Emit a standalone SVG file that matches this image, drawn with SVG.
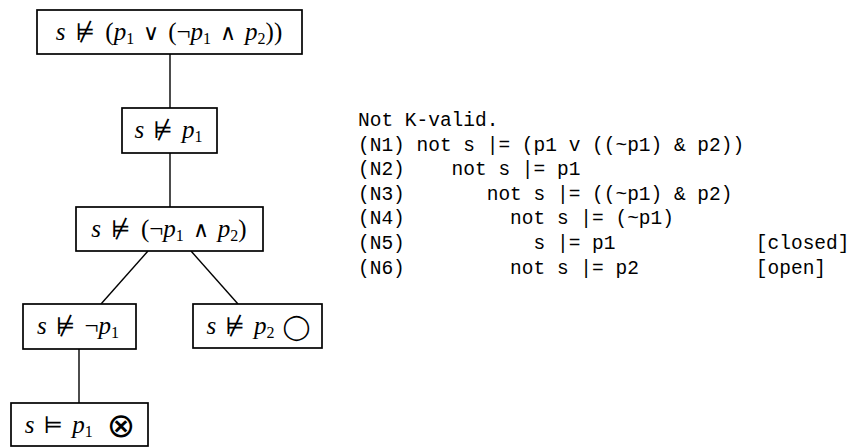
<svg xmlns="http://www.w3.org/2000/svg" width="859" height="447" viewBox="0 0 859 447">
  <style>
    .box { fill: #fff; stroke: #000; stroke-width: 1.7; }
    .edge { stroke: #000; stroke-width: 1.4; fill: none; }
    .math { font-family: "Liberation Serif", "DejaVu Serif", serif; font-size: 25px; fill: #000; }
    .i { font-style: italic; }
    .sub { font-size: 16px; }
    .sym { font-family: "DejaVu Serif", serif; font-size: 23px; }
    .thin { font-family: "DejaVu Sans", sans-serif; font-size: 22px; font-weight: 200; }
    .big { font-family: "DejaVu Sans", sans-serif; font-size: 25px; }
    .otimes { font-family: "DejaVu Sans", sans-serif; font-size: 34px; }
    .mono { font-family: "Liberation Mono", "DejaVu Sans Mono", monospace; font-size: 19.5px; fill: #000; white-space: pre; }
  </style>
  <rect width="859" height="447" fill="#fff"/>

  <!-- tree connectors -->
  <g id="connectors">
    <line class="edge" x1="170" y1="54" x2="170" y2="108"/>
    <line class="edge" x1="170" y1="153" x2="170" y2="207"/>
    <line class="edge" x1="148" y1="251" x2="101" y2="304"/>
    <line class="edge" x1="191" y1="251" x2="238" y2="304"/>
    <line class="edge" x1="79" y1="349" x2="79" y2="403"/>
  </g>

  <!-- tableau nodes -->
  <g id="n1">
    <rect class="box" x="37" y="10" width="265" height="44"/>
    <text class="math" x="169" y="40" text-anchor="middle"><tspan class="i">s</tspan><tspan class="sym" dx="10">⊭</tspan><tspan dx="10">(</tspan><tspan class="i">p</tspan><tspan class="sub" dy="4">1</tspan><tspan class="thin" dy="-4" dx="9">∨</tspan><tspan dx="9">(</tspan><tspan>¬</tspan><tspan class="i">p</tspan><tspan class="sub" dy="4">1</tspan><tspan class="thin" dy="-4" dx="9">∧</tspan><tspan class="i" dx="9">p</tspan><tspan class="sub" dy="4">2</tspan><tspan dy="-4">))</tspan></text>
  </g>
  <g id="n2">
    <rect class="box" x="122" y="108" width="95" height="45"/>
    <text class="math" x="168.5" y="138" text-anchor="middle"><tspan class="i">s</tspan><tspan class="sym" dx="9">⊭</tspan><tspan class="i" dx="9">p</tspan><tspan class="sub" dy="4">1</tspan></text>
  </g>
  <g id="n3">
    <rect class="box" x="76" y="207" width="187" height="44"/>
    <text class="math" x="169" y="237" text-anchor="middle"><tspan class="i">s</tspan><tspan class="sym" dx="10">⊭</tspan><tspan dx="10">(</tspan><tspan>¬</tspan><tspan class="i">p</tspan><tspan class="sub" dy="4">1</tspan><tspan class="thin" dy="-4" dx="9">∧</tspan><tspan class="i" dx="9">p</tspan><tspan class="sub" dy="4">2</tspan><tspan dy="-4">)</tspan></text>
  </g>
  <g id="n4">
    <rect class="box" x="23" y="304" width="113" height="45"/>
    <text class="math" x="78" y="334" text-anchor="middle"><tspan class="i">s</tspan><tspan class="sym" dx="9">⊭</tspan><tspan dx="9">¬</tspan><tspan class="i">p</tspan><tspan class="sub" dy="4">1</tspan></text>
  </g>
  <g id="n5">
    <rect class="box" x="193" y="304" width="129" height="44"/>
    <text class="math" x="258.5" y="334" text-anchor="middle"><tspan class="i">s</tspan><tspan class="sym" dx="9">⊭</tspan><tspan class="i" dx="9">p</tspan><tspan class="sub" dy="4">2</tspan><tspan class="big" dy="-3" dx="8">◯</tspan></text>
  </g>
  <g id="n6">
    <rect class="box" x="11" y="403" width="137" height="43"/>
    <text class="math" x="80" y="433" text-anchor="middle"><tspan class="i">s</tspan><tspan class="sym" dx="9">⊨</tspan><tspan class="i" dx="9">p</tspan><tspan class="sub" dy="4">1</tspan><tspan class="otimes" dy="0" dx="14">⊗</tspan></text>
  </g>

  <!-- prover transcript -->
  <g id="transcript">
    <text class="mono" xml:space="preserve" x="358" y="126">Not K-valid.</text>
    <text class="mono" xml:space="preserve" x="358" y="150.6">(N1) not s |= (p1 v ((~p1) &amp; p2))</text>
    <text class="mono" xml:space="preserve" x="358" y="175.2">(N2)    not s |= p1</text>
    <text class="mono" xml:space="preserve" x="358" y="199.8">(N3)       not s |= ((~p1) &amp; p2)</text>
    <text class="mono" xml:space="preserve" x="358" y="224.4">(N4)         not s |= (~p1)</text>
    <text class="mono" xml:space="preserve" x="358" y="249">(N5)           s |= p1            [closed]</text>
    <text class="mono" xml:space="preserve" x="358" y="273.6">(N6)         not s |= p2          [open]</text>
  </g>
</svg>
